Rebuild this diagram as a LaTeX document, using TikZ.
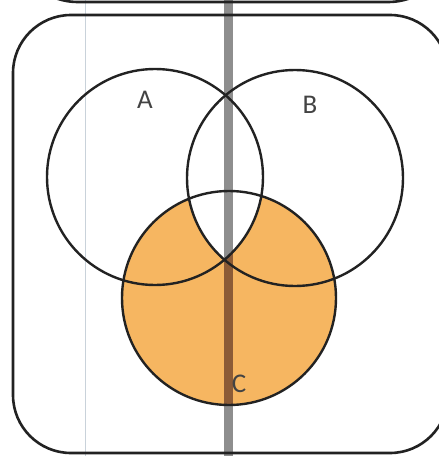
\documentclass[tikz,border=0pt]{standalone}
\usepackage{fontspec}
\setmainfont{Carlito}
\definecolor{vorange}{HTML}{F6B661}
\definecolor{vline}{HTML}{222222}
\definecolor{scanbar}{HTML}{8E8E8E}
\definecolor{scanbrown}{HTML}{8C5B36}
\definecolor{faint}{HTML}{C9D2DA}
\tikzset{
  setcircle/.style={circle, minimum size=216pt, inner sep=0pt, outer sep=0pt},
  outline/.style={draw=vline, line width=2.4pt},
  frame/.style={draw=vline, line width=2.6pt, rounded corners=58pt},
  topframe/.style={draw=vline, line width=2.6pt, rounded corners=66pt},
  setlabel/.style={font=\fontsize{27}{27}\selectfont, text=vline!85, anchor=base, inner sep=0pt}
}
\begin{document}
\begin{tikzpicture}[x=1pt, y=-1pt]
\useasboundingbox (0,0) rectangle (439,456);
\clip (0,0) rectangle (439,456);
\fill[white] (0,0) rectangle (439,456);
% set circles (positions only)
\node[setcircle] (A) at (155,177) {};
\node[setcircle] (B) at (295,178) {};
\node[setcircle, minimum size=214pt] (C) at (229,298) {};
% shading: C without A and B together
\fill[vorange] (229,298) circle (107);
\begin{scope}
  \clip (155,177) circle (108);
  \clip (295,178) circle (108);
  \fill[white] (229,298) circle (107);
\end{scope}
% scan artifacts
\draw[faint, line width=1pt] (85,0) -- (85,456);
\fill[scanbar] (224,0) rectangle (233,456);
\begin{scope}
  \clip (229,298) circle (107);
  \fill[scanbrown] (224,0) rectangle (233,456);
\end{scope}
\begin{scope}
  \clip (155,177) circle (108);
  \clip (295,178) circle (108);
  \fill[scanbar] (224,0) rectangle (233,456);
\end{scope}
% frames
\draw[topframe] (12,-200) rectangle (454,2);
\draw[frame] (13,15) rectangle (448,453);
% circle outlines
\draw[outline] (A.center) circle (108);
\draw[outline] (B.center) circle (108);
\draw[outline] (C.center) circle (107);
% labels
\node[setlabel] (la) at (145,108) {A};
\node[setlabel] (lb) at (310,113) {B};
\node[setlabel] (lc) at (239,392) {C};
\end{tikzpicture}
\end{document}
